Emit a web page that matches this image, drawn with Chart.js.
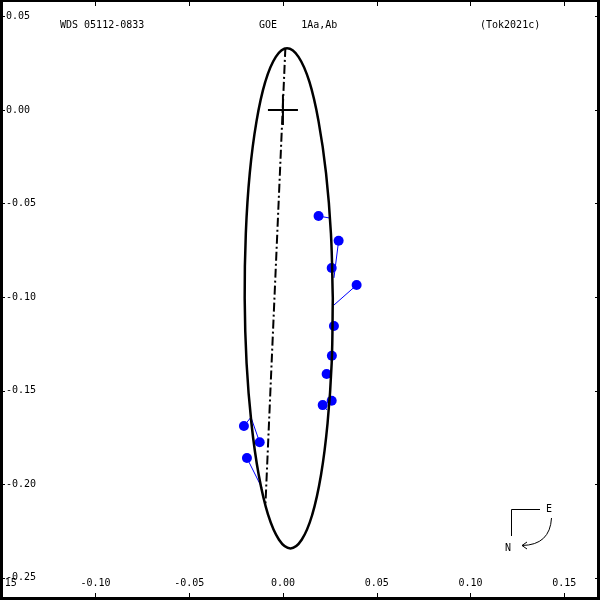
<!DOCTYPE html>
<html>
<head>
<meta charset="utf-8">
<script src="https://cdn.jsdelivr.net/npm/chart.js@4"></script>
<style>
  html, body { margin: 0; padding: 0; background: #fff; }
  #wrap { width: 600px; height: 600px; }
</style>
</head>
<body>
<div id="wrap"><canvas id="orbitChart" width="600" height="600"></canvas></div>
<script>
// --- DATOS ---
const titleLeft = 'WDS 05112-0833';
const titleMid = 'GOE    1Aa,Ab';
const titleRight = '(Tok2021c)';

const xTicks = [-0.15, -0.10, -0.05, 0.00, 0.05, 0.10, 0.15];
const yTicks = [0.05, 0.00, -0.05, -0.10, -0.15, -0.20, -0.25];

// órbita aparente, puntos leídos a lo largo de la elipse
const orbitX = [0.0266, 0.0260, 0.0238, 0.0203, 0.0156, 0.0100, 0.0040, -0.0021, -0.0079, -0.0129, -0.0168, -0.0194, -0.0204, -0.0198, -0.0177, -0.0141, -0.0094, -0.0038, 0.0022, 0.0083, 0.0141, 0.0190, 0.0230, 0.0256, 0.0266];
const orbitY = [-0.1007, -0.1353, -0.1675, -0.1952, -0.2165, -0.2298, -0.2344, -0.2298, -0.2165, -0.1952, -0.1675, -0.1353, -0.1007, -0.0661, -0.0339, -0.0061, 0.0151, 0.0284, 0.0330, 0.0284, 0.0151, -0.0061, -0.0339, -0.0661, -0.1007];

// línea de nodos
const nodeX = [0.0013, -0.0093];
const nodeY = [0.0332, -0.2102];

// estrella primaria (cruz)
const crossSize = 0.008;

// observaciones y posiciones calculadas
const obsX  = [0.0190, 0.0297, 0.0260, 0.0393, 0.0272, 0.0261, 0.0233, 0.0260, 0.0212, -0.0208, -0.0124, -0.0192];
const obsY  = [-0.0567, -0.0699, -0.0845, -0.0936, -0.1155, -0.1314, -0.1412, -0.1555, -0.1578, -0.1690, -0.1777, -0.1861];
const predX = [0.0251, 0.0272, 0.0267, 0.0272, 0.0272, 0.0264, 0.0256, 0.0253, 0.0235, -0.0170, -0.0171, -0.0112];
const predY = [-0.0578, -0.0898, -0.0866, -0.1043, -0.1166, -0.1294, -0.1401, -0.1572, -0.1604, -0.1642, -0.1642, -0.2021];

// --- construcción de datasets ---
const GAP = { x: null, y: null }; // corta la línea
const orbitPts = orbitX.map((x, i) => ({ x: x, y: orbitY[i] }));
const nodePts = nodeX.map((x, i) => ({ x: x, y: nodeY[i] }));
const crossPts = [
    { x: -crossSize, y: 0 }, { x: crossSize, y: 0 }, GAP,
    { x: 0, y: crossSize }, { x: 0, y: -crossSize }
];
let residPts = [];
obsX.forEach((x, i) => {
    residPts.push({ x: x, y: obsY[i] }, { x: predX[i], y: predY[i] }, GAP);
});
const obsPts = obsX.map((x, i) => ({ x: x, y: obsY[i] }));

const FONT = '10px "DejaVu Sans Mono", monospace';

const framePlugin = {
    id: 'frame',
    beforeDraw(chart) {
        const ctx = chart.ctx;
        ctx.save();
        ctx.fillStyle = '#fff';
        ctx.fillRect(0, 0, chart.width, chart.height);
        ctx.restore();
    },
    afterDraw(chart) {
        const ctx = chart.ctx;
        const xs = chart.scales.x, ys = chart.scales.y;
        const W = chart.width, H = chart.height;
        ctx.save();
        ctx.strokeStyle = '#000';
        ctx.fillStyle = '#000';

        // marco
        ctx.lineWidth = 3;
        ctx.beginPath();
        ctx.moveTo(1.5, 0); ctx.lineTo(1.5, H - 1.5); ctx.lineTo(W - 1.5, H - 1.5); ctx.lineTo(W - 1.5, 0);
        ctx.stroke();
        ctx.lineWidth = 2;
        ctx.beginPath();
        ctx.moveTo(0, 1); ctx.lineTo(W, 1);
        ctx.stroke();

        // marcas de ejes
        ctx.lineWidth = 1;
        ctx.beginPath();
        xTicks.forEach(v => {
            const px = Math.round(xs.getPixelForValue(v)) + 0.5;
            ctx.moveTo(px, 0); ctx.lineTo(px, 6);
            ctx.moveTo(px, H); ctx.lineTo(px, H - 7);
        });
        yTicks.forEach(v => {
            const py = Math.round(ys.getPixelForValue(v)) + 0.5;
            ctx.moveTo(0, py); ctx.lineTo(5, py);
            ctx.moveTo(W, py); ctx.lineTo(W - 5, py);
        });
        ctx.stroke();

        // etiquetas
        ctx.font = FONT;
        ctx.textBaseline = 'middle';
        ctx.textAlign = 'center';
        xTicks.forEach(v => {
            ctx.fillText(v.toFixed(2), xs.getPixelForValue(v), 583);
        });
        ctx.textAlign = 'left';
        yTicks.forEach(v => {
            ctx.fillText(v.toFixed(2), 6, ys.getPixelForValue(v));
        });

        // títulos
        ctx.fillText(titleLeft, 60, 25);
        ctx.fillText(titleMid, 259, 25);
        ctx.fillText(titleRight, 480, 25);

        // brújula
        ctx.beginPath();
        ctx.moveTo(540, 509.5); ctx.lineTo(511.5, 509.5); ctx.lineTo(511.5, 536);
        ctx.moveTo(551.5, 518);
        ctx.quadraticCurveTo(550, 545, 522, 545.5);
        ctx.moveTo(522, 545.5); ctx.lineTo(527, 542);
        ctx.moveTo(522, 545.5); ctx.lineTo(527, 549);
        ctx.stroke();
        ctx.textAlign = 'center';
        ctx.fillText('E', 549, 509);
        ctx.fillText('N', 508, 548);
        ctx.restore();
    }
};

new Chart(document.getElementById('orbitChart'), {
    type: 'scatter',
    data: {
        datasets: [
            { data: orbitPts, showLine: true, borderColor: '#000', borderWidth: 2.5, tension: 0.4, pointRadius: 0 },
            { data: nodePts, showLine: true, borderColor: '#000', borderWidth: 2, borderDash: [9, 3, 2, 3], pointRadius: 0 },
            { data: crossPts, showLine: true, spanGaps: false, borderColor: '#000', borderWidth: 2, pointRadius: 0 },
            { data: residPts, showLine: true, spanGaps: false, borderColor: '#0000ff', borderWidth: 1, pointRadius: 0 },
            { data: obsPts, showLine: false, pointRadius: 5, pointBackgroundColor: '#0000ff', pointBorderColor: '#0000ff', borderWidth: 0 }
        ]
    },
    options: {
        responsive: false,
        animation: false,
        layout: { padding: 0, autoPadding: false },
        plugins: { legend: { display: false }, tooltip: { enabled: false } },
        scales: {
            x: { type: 'linear', display: false, min: -0.1509, max: 0.1691 },
            y: { type: 'linear', display: false, min: -0.2620, max: 0.0588 }
        }
    },
    plugins: [framePlugin]
});
</script>
</body>
</html>
